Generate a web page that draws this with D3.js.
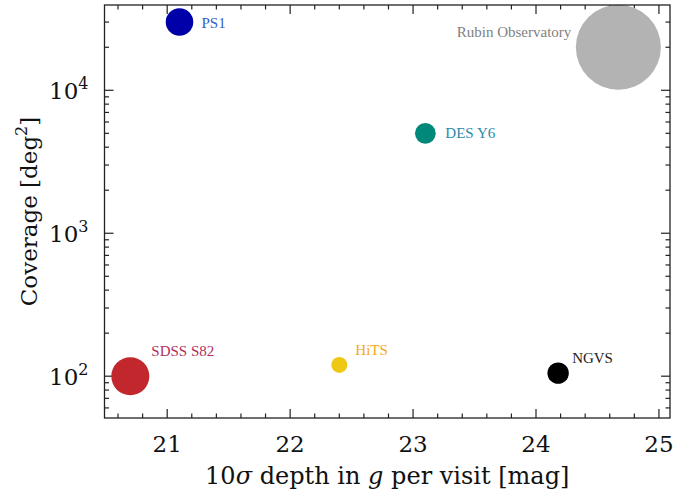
<!DOCTYPE html>
<html>
<head>
<meta charset="utf-8">
<script src="https://cdn.jsdelivr.net/npm/d3@7"></script>
<style>
  body { margin: 0; background: #fff; }
  text { font-family: "DejaVu Serif", serif; }
</style>
</head>
<body>
<div id="chart"></div>
<script>
// survey data
const surveys = ["PS1", "Rubin Observatory", "DES Y6", "SDSS S82", "HiTS", "NGVS"];
const depthG = [21.1, 24.67, 23.1, 20.7, 22.4, 24.18];
const coverage = [30000, 20000, 5000, 100, 120, 105];
const markerSize = [190, 1806, 108, 361, 64, 114];
const xTicks = [21, 22, 23, 24, 25];
const yTicks = [100, 1000, 10000];

const dotColors = ["#0000a8", "#b3b3b3", "#00897b", "#c1272d", "#efc816", "#000000"];
const labelColors = ["#3461c1", "#7f7f7f", "#2a8bab", "#b0305c", "#f4a81c", "#222222"];
// label offset from the marker centre, px: [dx, dy, anchor]
const labelPos = [[22, 6, "start"], [-47, -10, "end"], [20, 4.5, "start"],
                  [21, -20, "start"], [16, -10, "start"], [14, -10.5, "start"]];

const W = 673, H = 495;
const margin = { top: 5, right: 3, bottom: 77, left: 104.5 };

const svg = d3.select("#chart").append("svg")
  .attr("width", W)
  .attr("height", H);

const x = d3.scaleLinear()
  .domain([20.49, 25.09])
  .range([margin.left, W - margin.right]);

const y = d3.scaleLog()
  .domain([51, 39500])
  .range([H - margin.bottom, margin.top]);

const r = d3.scaleSqrt()
  .domain([0, d3.max(markerSize)])
  .range([0, 42.5]);

const axisColor = "#222";
const x0 = margin.left, x1 = W - margin.right;
const y0 = H - margin.bottom, y1 = margin.top;

// minor ticks
const xMinor = d3.range(20.6, 25.09, 0.2).filter(v => Math.abs(v - Math.round(v)) > 0.01);
const yMinor = [];
[10, 100, 1000, 10000].forEach(d => {
  for (let k = 2; k < 10; k++) {
    const v = d * k;
    if (v >= y.domain()[0] && v <= y.domain()[1]) yMinor.push(v);
  }
});

const ticks = svg.append("g").attr("stroke", axisColor).attr("stroke-width", 1.2);
const majLen = 9, minLen = 4.5;

xTicks.forEach(v => {
  ticks.append("line").attr("x1", x(v)).attr("x2", x(v)).attr("y1", y0).attr("y2", y0 - majLen);
  ticks.append("line").attr("x1", x(v)).attr("x2", x(v)).attr("y1", y1).attr("y2", y1 + majLen);
});
xMinor.forEach(v => {
  ticks.append("line").attr("x1", x(v)).attr("x2", x(v)).attr("y1", y0).attr("y2", y0 - minLen);
  ticks.append("line").attr("x1", x(v)).attr("x2", x(v)).attr("y1", y1).attr("y2", y1 + minLen);
});
yTicks.forEach(v => {
  ticks.append("line").attr("y1", y(v)).attr("y2", y(v)).attr("x1", x0).attr("x2", x0 + majLen);
  ticks.append("line").attr("y1", y(v)).attr("y2", y(v)).attr("x1", x1).attr("x2", x1 - majLen);
});
yMinor.forEach(v => {
  ticks.append("line").attr("y1", y(v)).attr("y2", y(v)).attr("x1", x0).attr("x2", x0 + minLen);
  ticks.append("line").attr("y1", y(v)).attr("y2", y(v)).attr("x1", x1).attr("x2", x1 - minLen);
});

// points
const pts = surveys.map((name, i) => ({
  name, depth: depthG[i], cov: coverage[i], size: markerSize[i],
  color: dotColors[i], lcolor: labelColors[i], pos: labelPos[i]
}));

svg.selectAll("circle.pt")
  .data(pts)
  .enter().append("circle")
  .attr("class", "pt")
  .attr("cx", d => x(d.depth))
  .attr("cy", d => y(d.cov))
  .attr("r", d => r(d.size))
  .attr("fill", d => d.color);

svg.selectAll("text.lbl")
  .data(pts)
  .enter().append("text")
  .attr("class", "lbl")
  .attr("x", d => x(d.depth) + d.pos[0])
  .attr("y", d => y(d.cov) + d.pos[1])
  .attr("text-anchor", d => d.pos[2])
  .attr("fill", d => d.lcolor)
  .style("font-family", "'Liberation Serif', serif")
  .style("font-size", "15px")
  .text(d => d.name);

// frame
svg.append("rect")
  .attr("x", x0).attr("y", y1)
  .attr("width", x1 - x0).attr("height", y0 - y1)
  .attr("fill", "none")
  .attr("stroke", axisColor)
  .attr("stroke-width", 1.3);

// tick labels
svg.append("g").selectAll("text")
  .data(xTicks)
  .enter().append("text")
  .attr("x", d => x(d))
  .attr("y", y0 + 34)
  .attr("text-anchor", "middle")
  .style("font-size", "23px")
  .attr("fill", "#111")
  .text(d => d);

const yl = svg.append("g").selectAll("text")
  .data(yTicks)
  .enter().append("text")
  .attr("x", x0 - 16)
  .attr("y", d => y(d) + 9)
  .attr("text-anchor", "end")
  .style("font-size", "23px")
  .attr("fill", "#111");
yl.append("tspan").text("10");
yl.append("tspan").attr("dy", -10).style("font-size", "16px").text(d => Math.round(Math.log10(d)));

// axis titles
const xt = svg.append("text")
  .attr("x", (x0 + x1) / 2)
  .attr("y", 484)
  .attr("text-anchor", "middle")
  .style("font-size", "24px")
  .attr("fill", "#111");
xt.append("tspan").text("10");
xt.append("tspan").style("font-style", "italic").text("σ");
xt.append("tspan").text(" depth in ");
xt.append("tspan").style("font-style", "italic").text("g");
xt.append("tspan").text(" per visit [mag]");

const ytt = svg.append("text")
  .attr("transform", `translate(37,${(y0 + y1) / 2}) rotate(-90)`)
  .attr("text-anchor", "middle")
  .style("font-size", "23px")
  .attr("fill", "#111");
ytt.append("tspan").text("Coverage [deg");
ytt.append("tspan").attr("dy", -10).style("font-size", "16px").text("2");
ytt.append("tspan").attr("dy", 10).text("]");
</script>
</body>
</html>
